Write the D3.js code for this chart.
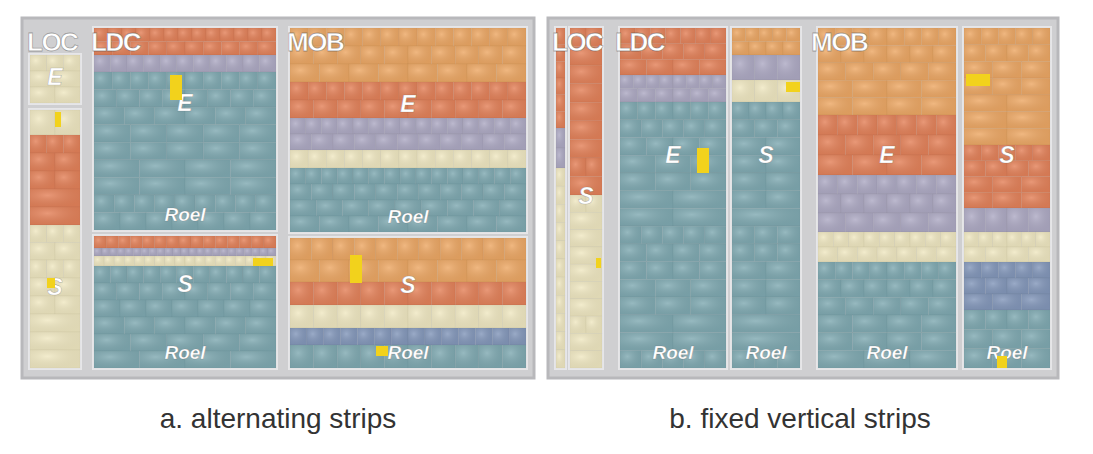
<!DOCTYPE html><html><head><meta charset="utf-8">
<script src="https://cdn.jsdelivr.net/npm/d3@7"></script>
<style>body{margin:0;background:#fff}</style></head><body><svg id="c" width="1093" height="454"></svg>
<script>
const colors={o:"#eda865",r:"#e4825a",p:"#aeaac4",y:"#f0e8c2",t:"#80aab2",b:"#8498bb"};
// blocks: [panel, x0,y0,x1,y1, label, bands "color:size"]
const blocks=[
 ["a",30,55,80,103,"E","y:48"],
 ["a",30,110,80,368,"S","y:25|r:90|y:35|y:108"],
 ["a",94,28,276,230,"E|Roel","r:27|p:17|t:158"],
 ["a",94,236,276,368,"S|Roel","r:12|p:8|y:10|t:102"],
 ["a",290,28,526,232,"E|Roel","o:54|r:36|p:32|y:18|t:64"],
 ["a",290,238,526,368,"S|Roel","o:44|r:23|y:23|b:17|t:23"],
 ["b",556,28,565,368,"","r:100|p:40|y:200"],
 ["b",570,28,602,368,"S","r:167|y:173"],
 ["b",620,28,726,368,"E|Roel","r:47|p:27|t:266"],
 ["b",732,28,800,368,"S|Roel","o:27|p:25|y:22|t:266"],
 ["b",818,28,956,368,"E|Roel","o:87|r:60|p:57|y:30|t:106"],
 ["b",964,28,1050,368,"S|Roel","o:117|r:63|p:24|y:30|b:48|t:58"]];
const groups=[["LOC",27,51],["LDC",91,51],["MOB",287,51],["LOC",552,51],["LDC",615,51],["MOB",811,51]];
const highlights=[[170,75,12,25],[55,112,6,15],[47,278,8,10],[253,258,20,8],[350,255,12,28],[376,346,12,10],
 [697,148,12,25],[786,82,14,10],[966,74,24,12],[596,258,5,10],[997,356,10,12]];
const panels=[[22,18,534,378],[548,18,1058,378]];
const captions=[["a. alternating strips",278],["b. fixed vertical strips",800]];
const svg=d3.select("#c");
const defs=svg.append("defs");
const g=defs.append("radialGradient").attr("id","cush").attr("cx","35%").attr("cy","35%").attr("r","75%");
g.append("stop").attr("offset","0").attr("stop-color","#fff").attr("stop-opacity",0.18);
g.append("stop").attr("offset","1").attr("stop-color","#000").attr("stop-opacity",0.07);
panels.forEach(p=>svg.append("rect").attr("x",p[0]).attr("y",p[1]).attr("width",p[2]-p[0]).attr("height",p[3]-p[1]).attr("fill","#cfcfd1").attr("stroke","#b8b8bb").attr("stroke-width",3));
blocks.forEach(b=>{
 const [pn,x0,y0,x1,y1,lab,bs]=b;
 const bands=bs.split("|").map(s=>{const [c,v]=s.split(":");return {c,v:+v};});
 const y=d3.scaleLinear().domain([0,d3.sum(bands,d=>d.v)]).range([y0,y1]);
 let acc=0;
 svg.append("rect").attr("x",x0-2).attr("y",y0-2).attr("width",x1-x0+4).attr("height",y1-y0+4).attr("fill","#e6e6e8");
 bands.forEach(bd=>{
  const ya=y(acc),yb=y(acc+bd.v);acc+=bd.v;
  const h=yb-ya, rows=Math.max(1,Math.round(h/18)), cell=h/rows;
  for(let r=0;r<rows;r++){
   const n=Math.max(1,Math.round((x1-x0)/(cell*(1+0.3*r%2))));
   const x=d3.scaleLinear().domain([0,n]).range([x0,x1]);
   for(let i=0;i<n;i++){
    const rr=[x(i),ya+r*cell,x(i+1)-x(i),cell];
    svg.append("rect").attr("x",rr[0]).attr("y",rr[1]).attr("width",rr[2]).attr("height",rr[3]).attr("fill",colors[bd.c]);
    svg.append("rect").attr("x",rr[0]).attr("y",rr[1]).attr("width",rr[2]).attr("height",rr[3]).attr("fill","url(#cush)").attr("stroke","rgba(0,0,0,0.05)").attr("stroke-width",0.6);
   }
  }
 });
 if(lab){const ls=lab.split("|");const cx=(x0+x1)/2;
  const pos=ls.length===2?[(y0+y1)/2-(y1-y0)*0.12,y1-14]:[(y0+y1)/2+(pn=="a"&&x1<100&&y1>300?50:0)];
  ls.forEach((t,i)=>svg.append("text").attr("x",cx).attr("y",pos[i]).attr("text-anchor","middle").attr("dominant-baseline","middle")
   .attr("font-family","Liberation Sans, Arial").attr("font-weight","bold").attr("font-style","italic").attr("font-size",t=="Roel"?19:23)
   .attr("fill","#fff").attr("stroke","rgba(60,60,60,0.35)").attr("stroke-width",0.6).text(t));}
});
highlights.forEach(h=>svg.append("rect").attr("x",h[0]).attr("y",h[1]).attr("width",h[2]).attr("height",h[3]).attr("fill","#f2d21c"));
groups.forEach(t=>svg.append("text").attr("x",t[1]).attr("y",t[2]).attr("font-family","Liberation Sans, Arial").attr("font-weight","bold").attr("font-size",26)
 .attr("fill","#fff").attr("stroke","rgba(70,70,70,0.45)").attr("stroke-width",0.8).attr("letter-spacing",-1.5).text(t[0]));
captions.forEach(c=>svg.append("text").attr("x",c[1]).attr("y",428).attr("text-anchor","middle").attr("font-family","Liberation Sans, Arial").attr("font-size",28).attr("fill","#333").text(c[0]));
</script></body></html>
